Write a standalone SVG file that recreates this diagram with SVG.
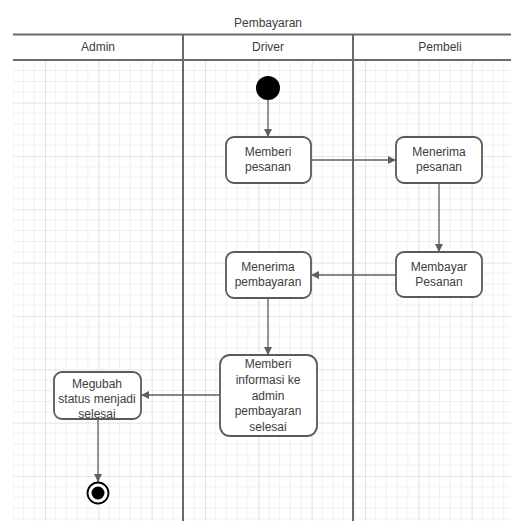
<svg xmlns="http://www.w3.org/2000/svg" width="511" height="521" viewBox="0 0 511 521">
<style>
text{font-family:"Liberation Sans",Arial,sans-serif;font-size:12px;fill:#3d3d3d;text-anchor:middle}
.box{fill:#fff;stroke:#5a5a5a;stroke-width:1.8}
.conn{stroke:#5f5f5f;stroke-width:1.3;fill:none;marker-end:url(#ah)}
.lane{stroke:#6a6a6a;stroke-width:2}
</style>
<defs>
<marker id="ah" viewBox="0 0 10 10" refX="10" refY="5" markerWidth="8" markerHeight="8" markerUnits="userSpaceOnUse" orient="auto">
<path d="M0,0 L10,5 L0,10 z" fill="#5f5f5f"/>
</marker>
<pattern id="grid" patternUnits="userSpaceOnUse" x="-8.33" y="49.33" width="53.33" height="53.33">
<path d="M10.67,0V53.33M21.33,0V53.33M32,0V53.33M42.67,0V53.33M0,10.67H53.33M0,21.33H53.33M0,32H53.33M0,42.67H53.33" stroke="#efefef" stroke-width="1"/>
<path d="M0.5,0V53.33M0,0.5H53.33" stroke="#e3e3e3" stroke-width="1"/>
</pattern>
</defs>
<rect width="511" height="521" fill="#fff"/>
<rect x="13" y="60" width="498" height="461" fill="url(#grid)"/>
<g id="pool">
<text x="268" y="27">Pembayaran</text>
<line class="lane" x1="13" y1="34.5" x2="511" y2="34.5"/>
<line class="lane" x1="13" y1="60" x2="511" y2="60"/>
<line class="lane" x1="183" y1="34" x2="183" y2="521"/>
<line class="lane" x1="353" y1="34" x2="353" y2="521"/>
<text x="98" y="51">Admin</text>
<text x="268" y="51">Driver</text>
<text x="440" y="51">Pembeli</text>
</g>
<g id="connectors">
<line class="conn" x1="268" y1="100" x2="268" y2="137"/>
<line class="conn" x1="311" y1="160" x2="396" y2="160"/>
<line class="conn" x1="439" y1="183" x2="439" y2="252"/>
<line class="conn" x1="396" y1="275" x2="311" y2="275"/>
<line class="conn" x1="268" y1="298" x2="268" y2="355"/>
<line class="conn" x1="220" y1="395" x2="141" y2="395"/>
<line class="conn" x1="98" y1="419" x2="98" y2="482"/>
</g>
<g id="start"><circle cx="268" cy="88" r="12" fill="#000"/></g>
<g id="memberi-pesanan">
<rect class="box" x="226" y="137" width="85" height="46" rx="8"/>
<text x="268" y="156">Memberi</text><text x="268" y="171">pesanan</text>
</g>
<g id="menerima-pesanan">
<rect class="box" x="396" y="137" width="86" height="46" rx="8"/>
<text x="439" y="156">Menerima</text><text x="439" y="171">pesanan</text>
</g>
<g id="membayar-pesanan">
<rect class="box" x="396" y="252" width="86" height="45" rx="8"/>
<text x="439" y="271">Membayar</text><text x="439" y="286">Pesanan</text>
</g>
<g id="menerima-pembayaran">
<rect class="box" x="226" y="252" width="85" height="46" rx="8"/>
<text x="268" y="271">Menerima</text><text x="268" y="286">pembayaran</text>
</g>
<g id="memberi-informasi">
<rect class="box" x="220" y="355" width="97" height="81" rx="10"/>
<text x="268" y="368">Memberi</text>
<text x="268" y="384">informasi ke</text>
<text x="268" y="400">admin</text>
<text x="268" y="415">pembayaran</text>
<text x="268" y="431">selesai</text>
</g>
<g id="megubah-status">
<rect class="box" x="54" y="372" width="87" height="47" rx="8"/>
<text x="97" y="388">Megubah</text>
<text x="97" y="403">status menjadi</text>
<text x="97" y="418">selesai</text>
</g>
<g id="end">
<circle cx="98" cy="493" r="10.5" fill="#fff" stroke="#000" stroke-width="1.8"/>
<circle cx="98" cy="493" r="6.5" fill="#000"/>
</g>
</svg>
